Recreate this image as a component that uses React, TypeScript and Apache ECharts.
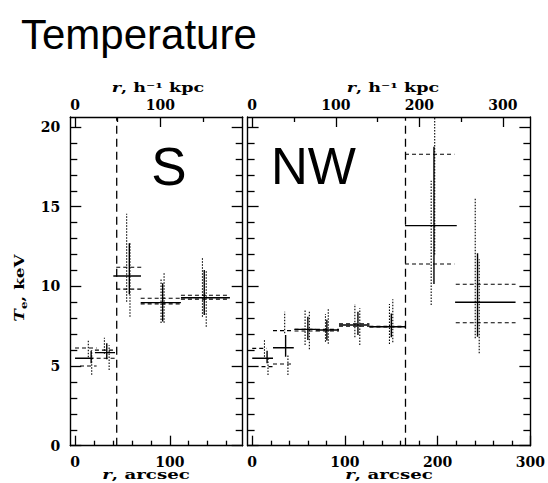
import React, { useEffect, useRef } from "react";
import * as echarts from "echarts";

// ---------- scales & ticks ----------
const KPC_PER_ARCSEC = 1.11;
const TEMP_RANGE = [0, 20.63];
const TEMP_MAJOR = [0, 5, 10, 15, 20];
const TEMP_MINOR = [1, 2, 3, 4, 6, 7, 8, 9, 11, 12, 13, 14, 16, 17, 18, 19];

const S_RANGE = [-5, 177];
const S_ARCSEC_MAJOR = [0, 100];
const S_ARCSEC_MINOR = [20, 40, 60, 80, 120, 140, 160];
const S_KPC_MAJOR = [0, 100];
const S_KPC_MINOR = [50, 150];

const NW_RANGE = [-5, 300];
const NW_ARCSEC_MAJOR = [0, 100, 200, 300];
const NW_ARCSEC_MINOR = [20, 40, 60, 80, 120, 140, 160, 180, 220, 240, 260, 280];
const NW_KPC_MAJOR = [0, 100, 200, 300];
const NW_KPC_MINOR = [50, 150, 250];

// cold-front positions (arcsec)
const S_FRONT = 44;
const NW_FRONT = 165.3;

// ---------- data: [r, rLow, rHigh, T, TLow, THigh] ----------
const S_MAIN = [
  [17, 0, 19.5, 5.49, 5.17, 5.96],
  [33.5, 21, 42.2, 5.84, 5.42, 6.43],
  [57.3, 40.4, 69.6, 10.65, 9.5, 12.7],
  [92.5, 69.3, 111.8, 8.98, 7.8, 10.2],
  [136.4, 111.8, 163.5, 9.29, 8.2, 11.03],
];
const S_ALT = [
  [14, 0, 22.8, 6.13, 5.55, 6.68],
  [17.6, 5.3, 22.8, 5.0, 4.45, 6.0],
  [31, 21, 42.2, 6.0, 5.77, 6.78],
  [36, 22.8, 42.2, 5.49, 4.75, 6.3],
  [54.5, 43.5, 70.3, 11.2, 9.04, 14.55],
  [58, 43.5, 70.3, 9.83, 8.1, 12.7],
  [90.8, 69.3, 111.8, 9.25, 7.7, 10.45],
  [94, 69.3, 111.8, 8.9, 7.72, 10.92],
  [134.5, 111.8, 163.5, 9.44, 8.1, 11.76],
  [138.5, 111.8, 163.5, 9.2, 7.47, 11.03],
];
const NW_MAIN = [
  [16, 0, 22.4, 5.49, 5.17, 5.96],
  [36, 22.4, 44.8, 6.15, 5.59, 6.95],
  [60, 45.6, 68.7, 7.3, 6.64, 8.1],
  [80.5, 68.7, 93.6, 7.26, 6.6, 7.9],
  [114, 93.6, 126.4, 7.58, 6.95, 8.41],
  [150, 126.4, 164.8, 7.47, 6.8, 8.3],
  [196, 164.8, 220.6, 13.81, 10.15, 18.77],
  [243, 218.8, 284, 9.0, 6.84, 12.08],
];
const NW_ALT = [
  [13.2, 0, 15.4, 6.11, 5.59, 6.68],
  [17, 10, 22.4, 4.96, 4.44, 5.49],
  [35, 22.4, 44.8, 7.22, 7.05, 8.41],
  [38.5, 22.4, 44.8, 5.13, 4.44, 5.69],
  [57, 45.6, 68.7, 7.3, 6.32, 8.56],
  [61.6, 45.6, 68.7, 7.2, 6.05, 8.5],
  [79, 68.7, 93.6, 7.3, 6.53, 8.27],
  [82, 68.7, 93.6, 7.2, 6.4, 8.56],
  [110.7, 93.6, 126.4, 7.65, 6.8, 8.9],
  [116, 93.6, 126.4, 7.5, 6.32, 8.62],
  [148, 126.4, 164.8, 7.5, 6.38, 8.9],
  [151.6, 126.4, 164.8, 7.45, 6.5, 9.19],
  [196.8, 164.8, 218, 18.29, 12.0, 22],
  [193, 164.8, 218, 11.4, 8.83, 16.63],
  [240.5, 219.5, 284, 10.13, 6.74, 15.53],
  [244.8, 219.5, 284, 7.72, 5.8, 11.7],
];

// ---------- styling ----------
const INK = "#000";
const TICK_FONT = {
  color: INK,
  fontFamily: "DejaVu Serif",
  fontWeight: "bold" as const,
  fontSize: 14,
};
const TITLE_FAMILY = "DejaVu Serif";

function axis(
  gridIndex: number,
  position: string,
  min: number,
  max: number,
  ticks: number[],
  tickLen: number,
  opts: { line?: boolean; labels?: number[]; margin?: number } = {}
) {
  return {
    type: "value",
    gridIndex,
    position,
    min,
    max,
    axisLine: { show: !!opts.line, onZero: false, lineStyle: { color: INK, width: 1.4 } },
    axisTick: {
      show: true,
      inside: true,
      length: tickLen,
      customValues: ticks,
      lineStyle: { color: INK, width: 1.3 },
    },
    axisLabel: opts.labels
      ? { show: true, customValues: opts.labels, margin: opts.margin ?? 8, ...TICK_FONT }
      : { show: false },
    splitLine: { show: false },
    minorTick: { show: false },
  };
}

function crossRenderer(hStyle: any, vStyle: any) {
  return (_params: any, api: any) => {
    const x = api.value(0);
    const xlo = api.value(1);
    const xhi = api.value(2);
    const t = api.value(3);
    const tlo = api.value(4);
    const thi = api.value(5);
    const pL = api.coord([xlo, t]);
    const pR = api.coord([xhi, t]);
    const pB = api.coord([x, tlo]);
    const pT = api.coord([x, thi]);
    return {
      type: "group",
      children: [
        { type: "line", shape: { x1: pL[0], y1: pL[1], x2: pR[0], y2: pR[1] }, style: hStyle },
        { type: "line", shape: { x1: pB[0], y1: pB[1], x2: pT[0], y2: pT[1] }, style: vStyle },
      ],
    };
  };
}

const SOLID = { stroke: INK, lineWidth: 1.4, fill: "none" };
const DASHED = { stroke: INK, lineWidth: 1.1, lineDash: [4, 3], fill: "none" };
const DOTTED = { stroke: INK, lineWidth: 1.1, lineDash: [1.5, 1.5], fill: "none" };

function panelSeries(xi: number, yi: number, main: number[][], alt: number[][], front: number) {
  return [
    {
      type: "custom",
      xAxisIndex: xi,
      yAxisIndex: yi,
      clip: true,
      encode: { x: 0, y: 3 },
      renderItem: crossRenderer(DASHED, DOTTED),
      data: alt,
      silent: true,
    },
    {
      type: "custom",
      xAxisIndex: xi,
      yAxisIndex: yi,
      clip: true,
      encode: { x: 0, y: 3 },
      renderItem: crossRenderer(SOLID, SOLID),
      data: main,
      silent: true,
    },
    {
      type: "line",
      xAxisIndex: xi,
      yAxisIndex: yi,
      symbol: "none",
      silent: true,
      lineStyle: { color: INK, width: 1.3, type: [8, 5] },
      data: [
        [front, TEMP_RANGE[0]],
        [front, TEMP_RANGE[1]],
      ],
    },
  ];
}

const G0 = { left: 70.3, top: 117, width: 172.4, height: 328.7 };
const G1 = { left: 247.6, top: 117, width: 285.6, height: 328.7 };

const sK = [S_RANGE[0] * KPC_PER_ARCSEC, S_RANGE[1] * KPC_PER_ARCSEC];
const nK = [NW_RANGE[0] * KPC_PER_ARCSEC, NW_RANGE[1] * KPC_PER_ARCSEC];

const axisTitleStyle = (text: string) => ({
  text,
  fill: INK,
  fontFamily: TITLE_FAMILY,
  fontWeight: "bold",
  fontSize: 13,
  align: "center",
  verticalAlign: "middle",
  rich: {
    i: { fontFamily: TITLE_FAMILY, fontWeight: "bold", fontStyle: "italic", fontSize: 13, fill: INK },
    sub: { fontFamily: TITLE_FAMILY, fontWeight: "bold", fontSize: 9, fill: INK, padding: [7, 0, 0, 0] },
  },
});

const option = {
  animation: false,
  backgroundColor: "#fff",
  grid: [
    { ...G0, containLabel: false },
    { ...G1, containLabel: false },
  ],
  xAxis: [
    axis(0, "bottom", S_RANGE[0], S_RANGE[1], S_ARCSEC_MAJOR, 10, { line: true, labels: S_ARCSEC_MAJOR, margin: 9 }),
    axis(0, "bottom", S_RANGE[0], S_RANGE[1], S_ARCSEC_MINOR, 5),
    axis(0, "top", sK[0], sK[1], S_KPC_MAJOR, 10, { line: true, labels: S_KPC_MAJOR, margin: 5 }),
    axis(0, "top", sK[0], sK[1], S_KPC_MINOR, 5),
    axis(1, "bottom", NW_RANGE[0], NW_RANGE[1], NW_ARCSEC_MAJOR, 10, { line: true, labels: NW_ARCSEC_MAJOR, margin: 9 }),
    axis(1, "bottom", NW_RANGE[0], NW_RANGE[1], NW_ARCSEC_MINOR, 5),
    axis(1, "top", nK[0], nK[1], NW_KPC_MAJOR, 10, { line: true, labels: NW_KPC_MAJOR, margin: 5 }),
    axis(1, "top", nK[0], nK[1], NW_KPC_MINOR, 5),
  ],
  yAxis: [
    axis(0, "left", TEMP_RANGE[0], TEMP_RANGE[1], TEMP_MAJOR, 11, { line: true, labels: TEMP_MAJOR, margin: 10 }),
    axis(0, "left", TEMP_RANGE[0], TEMP_RANGE[1], TEMP_MINOR, 7),
    axis(0, "right", TEMP_RANGE[0], TEMP_RANGE[1], TEMP_MAJOR, 11, { line: true }),
    axis(0, "right", TEMP_RANGE[0], TEMP_RANGE[1], TEMP_MINOR, 7),
    axis(1, "left", TEMP_RANGE[0], TEMP_RANGE[1], TEMP_MAJOR, 11, { line: true }),
    axis(1, "left", TEMP_RANGE[0], TEMP_RANGE[1], TEMP_MINOR, 7),
    axis(1, "right", TEMP_RANGE[0], TEMP_RANGE[1], TEMP_MAJOR, 11, { line: true }),
    axis(1, "right", TEMP_RANGE[0], TEMP_RANGE[1], TEMP_MINOR, 7),
  ],
  series: [
    ...panelSeries(0, 0, S_MAIN, S_ALT, S_FRONT),
    ...panelSeries(4, 4, NW_MAIN, NW_ALT, NW_FRONT),
  ],
  graphic: [
    {
      type: "text",
      x: 21,
      y: 34,
      style: {
        text: "Temperature",
        fill: INK,
        fontFamily: "Liberation Sans",
        fontSize: 42,
        align: "left",
        verticalAlign: "middle",
      },
    },
    {
      type: "text",
      x: 169,
      y: 166,
      style: {
        text: "S",
        fill: INK,
        fontFamily: "Liberation Sans",
        fontSize: 53,
        align: "center",
        verticalAlign: "middle",
      },
    },
    {
      type: "text",
      x: 271,
      y: 166,
      style: {
        text: "NW",
        fill: INK,
        fontFamily: "Liberation Sans",
        fontSize: 51,
        align: "left",
        verticalAlign: "middle",
      },
    },
    { type: "text", x: 158, y: 88, scaleX: 1.35, style: axisTitleStyle("{i|r}, h⁻¹ kpc") },
    { type: "text", x: 393, y: 88, scaleX: 1.35, style: axisTitleStyle("{i|r}, h⁻¹ kpc") },
    { type: "text", x: 146, y: 474, scaleX: 1.4, style: axisTitleStyle("{i|r}, arcsec") },
    { type: "text", x: 389, y: 474, scaleX: 1.4, style: axisTitleStyle("{i|r}, arcsec") },
    {
      type: "text",
      x: 20,
      y: 288,
      rotation: Math.PI / 2,
      scaleX: 1.3,
      style: axisTitleStyle("{i|T}{sub|e}, keV"),
    },
  ],
};

export default function App() {
  const ref = useRef<HTMLDivElement>(null);
  useEffect(() => {
    if (!ref.current) return;
    const chart = echarts.init(ref.current, null, { renderer: "svg" });
    chart.setOption(option as any);
    return () => chart.dispose();
  }, []);
  return (
    <div
      ref={ref}
      style={{ position: "fixed", left: 0, top: 0, width: 548, height: 483, background: "#fff" }}
    />
  );
}
